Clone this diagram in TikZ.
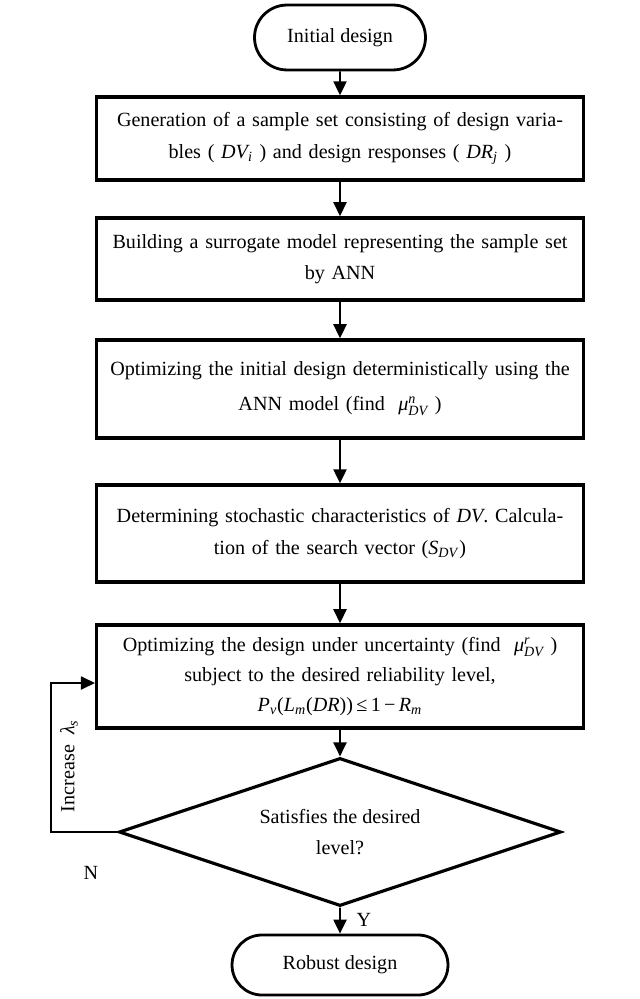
\documentclass[tikz,border=0pt]{standalone}
\usepackage{fontspec}
\setmainfont{Liberation Serif}
\usepackage{amsmath}
\usetikzlibrary{shapes.geometric,shapes.misc,arrows.meta}
\newcommand{\tmi}[1]{\text{\itshape #1}}
\begin{document}
\begin{tikzpicture}[x=0.5714pt,y=-0.5714pt,
 every node/.style={font=\fontsize{11.5}{18}\selectfont},
 procbox/.style={draw,line width=2pt,rectangle,inner xsep=3pt,inner ysep=0pt,text width=272pt,align=center},
 term/.style={draw,line width=1.6pt,rounded rectangle,inner sep=0pt,align=center},
 decision/.style={draw,line width=1.8pt,diamond,aspect=3,inner sep=0pt,align=center},
 arr/.style={-{Triangle[length=8pt,width=7.5pt]},line width=1.1pt},
 looparr/.style={-{Triangle[length=8pt,width=7.5pt]},line width=0.8pt},
 lbl/.style={inner sep=0pt}]
\useasboundingbox (0,0) rectangle (639,999);

\node[term,minimum width=97.7pt,minimum height=37.1pt] (t1) at (340,37.5) {Initial design};
\node[procbox,minimum height=47.4pt] (b1) at (340,138.5) {Generation of a sample set consisting of design varia-\\bles ( $\tmi{DV}_{\tmi{i}}$ ) and design responses ( $\tmi{DR}_{\tmi{j}}$ )};
\node[procbox,minimum height=46.9pt] (b2) at (340,259) {Building a surrogate model representing the sample set\\by ANN};
\node[procbox,minimum height=56pt] (b3) at (340,389) {Optimizing the initial design deterministically using the\\[2pt]ANN model (find \ $\tmi{μ}^{\tmi{n}}_{\tmi{DV}}$ )};
\node[procbox,minimum height=55.4pt] (b4) at (340,533.5) {Determining stochastic characteristics of \textit{DV}. Calcula-\\tion of the search vector (\textit{S}\textsubscript{\textit{DV}})};
\node[procbox,minimum height=58.9pt,font=\fontsize{11.5}{17}\selectfont] (b5) at (340,676.5) {Optimizing the design under uncertainty (find \ $\tmi{μ}^{\tmi{r}}_{\tmi{DV}}$ )\\subject to the desired reliability level,\\\textit{P}\textsubscript{\textit{v}}(\textit{L}\textsubscript{\textit{m}}(\textit{DR}))\,≤\,1\,−\,\textit{R}\textsubscript{\textit{m}}};
\node[decision,minimum width=252.6pt,minimum height=84.6pt] (d) at (340,832) {Satisfies the desired\\level?};
\node[term,minimum width=123.4pt,minimum height=34.3pt] (t2) at (340,965) {Robust design};

\draw[arr] (t1) -- (b1);
\draw[arr] (b1) -- (b2);
\draw[arr] (b2) -- (b3);
\draw[arr] (b3) -- (b4);
\draw[arr] (b4) -- (b5);
\draw[arr] (b5) -- (d);
\draw[arr] (d) -- (t2);

\coordinate (lb) at (51,832);
\coordinate (lt) at (51,683);
\draw[looparr] (d.west) -- (lb) -- (lt) -- (b5.west |- lt);

\node[lbl,rotate=90] (inc) at (69,766) {Increase \ $\tmi{λ}_{\tmi{s}}$};
\node[lbl] (nlab) at (91,873) {N};
\node[lbl] (ylab) at (364,920) {Y};
\end{tikzpicture}
\end{document}
